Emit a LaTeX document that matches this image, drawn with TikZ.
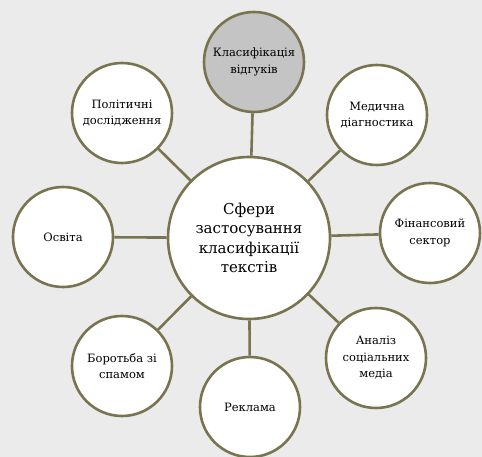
\documentclass[tikz,border=0pt]{standalone}
\usepackage{fontspec}
\newfontfamily\tnr{DejaVu Serif}
\definecolor{bg}{HTML}{EBEBEB}
\definecolor{rim}{HTML}{77744F}
\definecolor{hl}{HTML}{C4C4C4}
\begin{document}
\begin{tikzpicture}[x=1pt,y=-1pt,
  sat/.style={circle,draw=rim,line width=2.6pt,fill=white,minimum size=100pt,inner sep=0pt,align=center,font=\tnr\fontsize{11.5}{16.5}\selectfont},
  hub/.style={circle,draw=rim,line width=2.6pt,fill=white,minimum size=162pt,inner sep=0pt,align=center,font=\tnr\fontsize{15}{19.5}\selectfont},
  link/.style={draw=rim,line width=2.6pt}]
\fill[bg] (0,0) rectangle (482,457);
\useasboundingbox (0,0) rectangle (482,457);
\node[hub] (c) at (249,238) {Сфери\\застосування\\класифікації\\текстів};
\node[sat,fill=hl] (top) at (254,62) {Класифікація\\відгуків};
\node[sat] (med) at (377,115) {Медична\\діагностика};
\node[sat] (fin) at (430,233) {Фінансовий\\сектор};
\node[sat] (soc) at (376,358) {Аналіз\\соціальних\\медіа};
\node[sat] (rek) at (250,407) {Реклама};
\node[sat] (spam) at (122,366) {Боротьба зі\\спамом};
\node[sat] (osv) at (63,237) {Освіта};
\node[sat] (pol) at (122,113) {Політичні\\дослідження};
\foreach \s in {top,med,fin,soc,rek,spam,osv,pol}
  \draw[link] (c) -- (\s);
\end{tikzpicture}
\end{document}
